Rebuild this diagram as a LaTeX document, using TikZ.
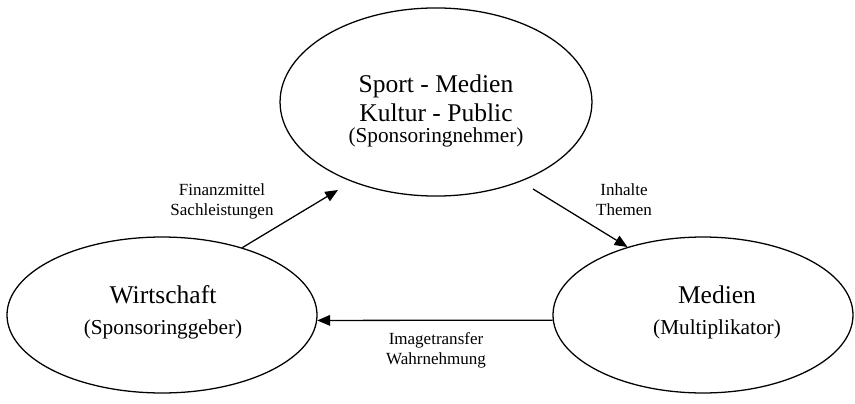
\documentclass[tikz,border=0pt]{standalone}
\usepackage{fontspec}
\setmainfont{Liberation Serif}
\usetikzlibrary{shapes.geometric,arrows.meta}

\begin{document}
\begin{tikzpicture}[x=0.47pt, y=-0.47pt,
  bubble/.style={draw, ellipse, line width=0.6pt, inner sep=0pt},
  flow/.style={line width=0.6pt, -{Triangle[length=6pt, width=5pt]}},
  bigtext/.style={align=center, font=\fontsize{12}{13.5}\selectfont},
  flowlabel/.style={align=center, font=\fontsize{8}{9.4}\selectfont}]
  \useasboundingbox (0,0) rectangle (855,404);

  % Ellipses
  \node[bubble, minimum width=146.6pt, minimum height=88.4pt] (sport) at (436,102) {};
  \node[bubble, minimum width=145.7pt, minimum height=73.3pt] (wirtschaft) at (162,315) {};
  \node[bubble, minimum width=141pt, minimum height=73.3pt] (medien) at (703,315) {};

  % Ellipse texts
  \node[bigtext] (sporttext) at (436,111) {Sport - Medien\\Kultur - Public\\[-3.5pt]{\fontsize{10}{11}\selectfont (Sponsoringnehmer)}};
  \node[bigtext] (wirtschafttext) at (163,312) {Wirtschaft\\[1pt]{\fontsize{10}{11}\selectfont (Sponsoringgeber)}};
  \node[bigtext] (medientext) at (717,312) {Medien\\[1pt]{\fontsize{10}{11}\selectfont (Multiplikator)}};

  % Flows
  \coordinate (finend) at (338,190);
  \coordinate (inhstart) at (533,189);
  \draw[flow] (wirtschaft.40) -- (finend);
  \draw[flow] (inhstart) -- (medien.138);
  \draw[flow] (medien.182) -- (wirtschaft.358);

  % Flow labels
  \node[flowlabel] (finlabel) at (222,201) {Finanzmittel\\Sachleistungen};
  \node[flowlabel] (inhlabel) at (624,200) {Inhalte\\Themen};
  \node[flowlabel] (imglabel) at (436,350) {Imagetransfer\\Wahrnehmung};

\end{tikzpicture}
\end{document}
